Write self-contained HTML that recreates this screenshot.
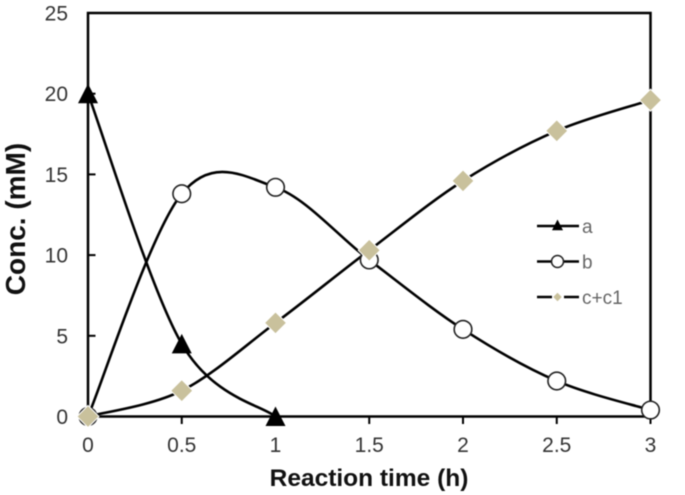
<!DOCTYPE html>
<html>
<head>
<meta charset="utf-8">
<style>
html,body{margin:0;padding:0;background:#fff;}
svg{display:block;}
text{font-family:"Liberation Sans",sans-serif;}
</style>
</head>
<body>
<svg id="chart" width="685" height="495" viewBox="0 0 685 495" xmlns="http://www.w3.org/2000/svg">
<g id="root" style="filter:blur(0.5px)"></g>
</svg>
<script>
const times = [0, 0.5, 1, 1.5, 2, 2.5, 3];
const seriesA = [20, 4.5, 0];
const seriesB = [0, 13.8, 14.2, 9.7, 5.4, 2.2, 0.4];
const seriesC = [0, 1.6, 5.8, 10.3, 14.6, 17.7, 19.6];
const xTickLabels = ['0', '0.5', '1', '1.5', '2', '2.5', '3'];
const yTickLabels = ['0', '5', '10', '15', '20', '25'];
const legendLabels = ['a', 'b', 'c+c1'];
const xAxisTitle = 'Reaction time (h)';
const yAxisTitle = 'Conc. (mM)';

const NS = 'http://www.w3.org/2000/svg';
const root = document.getElementById('root');
const X0 = 88, X1 = 650.5, Y0 = 416.5, Y1 = 13;
const xMax = 3, yMax = 25;
function sx(v) { return X0 + (X1 - X0) * v / xMax; }
function sy(v) { return Y0 - (Y0 - Y1) * v / yMax; }
function mk(tag, attrs, parent) {
  const el = document.createElementNS(NS, tag);
  for (const k in attrs) el.setAttribute(k, attrs[k]);
  (parent || root).appendChild(el);
  return el;
}
function smooth(pts) {
  let d = 'M' + pts[0][0] + ' ' + pts[0][1];
  const k = 0.165;
  for (let i = 0; i < pts.length - 1; i++) {
    const p0 = pts[Math.max(i - 1, 0)], p1 = pts[i], p2 = pts[i + 1], p3 = pts[Math.min(i + 2, pts.length - 1)];
    const c1x = p1[0] + (p2[0] - p0[0]) * k, c1y = p1[1] + (p2[1] - p0[1]) * k;
    const c2x = p2[0] - (p3[0] - p1[0]) * k, c2y = p2[1] - (p3[1] - p1[1]) * k;
    d += 'C' + c1x + ' ' + c1y + ' ' + c2x + ' ' + c2y + ' ' + p2[0] + ' ' + p2[1];
  }
  return d;
}
function triangle(cx, cy, s) {
  return (cx) + ',' + (cy - s) + ' ' + (cx + s) + ',' + (cy + s * 0.95) + ' ' + (cx - s) + ',' + (cy + s * 0.95);
}
function diamond(cx, cy, s) {
  return cx + ',' + (cy - s) + ' ' + (cx + s) + ',' + cy + ' ' + cx + ',' + (cy + s) + ' ' + (cx - s) + ',' + cy;
}
const DARK = '#000';
const DIAMOND = '#c9c19c';

// plot frame
const frame = mk('rect', {x: X0, y: Y1, width: X1 - X0, height: Y0 - Y1, fill: 'none', stroke: DARK, 'stroke-width': 2.5});



// y ticks
yTickLabels.forEach(function (lab) {
  const v = parseFloat(lab);
  const t = mk('line', {x1: X0, x2: X0 + 7.5, y1: sy(v), y2: sy(v), stroke: DARK, 'stroke-width': 2});
  
  
  const l = mk('text', {x: 68, y: sy(v) + 7.5, 'text-anchor': 'end', 'font-size': 21, fill: '#333'});
  l.textContent = lab;
  
  
});
// x ticks
xTickLabels.forEach(function (lab) {
  const v = parseFloat(lab);
  const t = mk('line', {x1: sx(v), x2: sx(v), y1: Y0, y2: Y0 + 7.5, stroke: DARK, 'stroke-width': 2});
  
  
  const l = mk('text', {x: sx(v), y: 452, 'text-anchor': 'middle', 'font-size': 21, fill: '#333'});
  l.textContent = lab;
  
  
});
// axis titles
const xt = mk('text', {x: 369, y: 486, 'text-anchor': 'middle', 'font-size': 24.5, 'font-weight': 'bold', fill: '#111'});
xt.textContent = xAxisTitle;


const yt = mk('text', {x: 0, y: 0, 'text-anchor': 'middle', 'font-size': 28, 'font-weight': 'bold', fill: '#111', transform: 'translate(25,219) rotate(-90)'});
yt.textContent = yAxisTitle;



function pointsOf(vals) {
  return vals.map(function (v, i) { return [sx(times[i]), sy(v)]; });
}
const ptsA = pointsOf(seriesA), ptsB = pointsOf(seriesB), ptsC = pointsOf(seriesC);

const lineA = mk('path', {d: smooth(ptsA), fill: 'none', stroke: DARK, 'stroke-width': 2.6});


const lineB = mk('path', {d: smooth(ptsB), fill: 'none', stroke: DARK, 'stroke-width': 2.6});


const lineC = mk('path', {d: smooth(ptsC), fill: 'none', stroke: DARK, 'stroke-width': 2.6});



ptsB.forEach(function (p) {
  const m = mk('circle', {cx: p[0], cy: p[1], r: 8.8, fill: '#fff', stroke: '#222', 'stroke-width': 1.6});
  
  
});
ptsA.forEach(function (p) {
  const m = mk('polygon', {points: triangle(p[0], p[1], 10), fill: '#000'});
  
  
});
ptsC.forEach(function (p) {
  const m = mk('polygon', {points: diamond(p[0], p[1], 11), fill: DIAMOND, stroke: '#fff', 'stroke-width': 1});
  
  
});

// legend
const legendY = [226, 261.5, 297];
legendLabels.forEach(function (lab, i) {
  const g = mk('g', {});
  
  
  const y = legendY[i];
  mk('line', {x1: 537, x2: 579, y1: y, y2: y, stroke: DARK, 'stroke-width': 2.4}, g);
  if (i === 0) mk('polygon', {points: triangle(557.5, y - 1, 5.5), fill: '#000'}, g);
  if (i === 1) mk('circle', {cx: 557.5, cy: y, r: 6, fill: '#fff', stroke: '#222', 'stroke-width': 1.5}, g);
  if (i === 2) {
    mk('rect', {x: 552, y: y - 8, width: 12, height: 16, fill: '#fff'}, g);
    mk('polygon', {points: diamond(557.5, y, 4.2), fill: DIAMOND}, g);
  }
  const t = mk('text', {x: 582, y: y + 7, 'font-size': 19, fill: '#666'}, g);
  t.textContent = lab;
});
</script>
</body>
</html>
